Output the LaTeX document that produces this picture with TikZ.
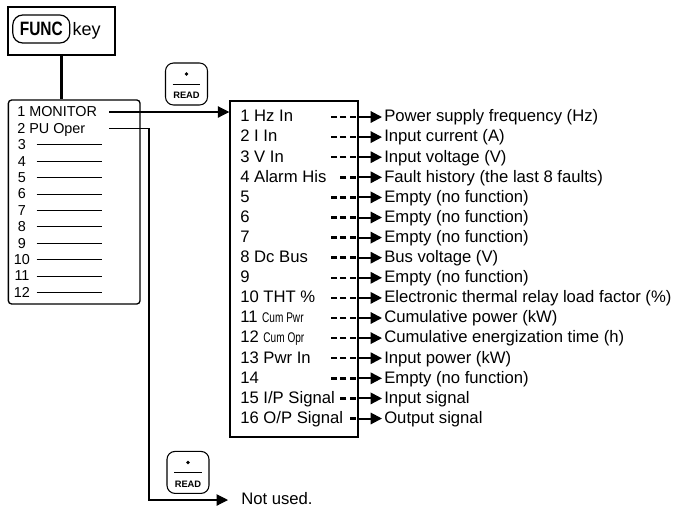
\documentclass[tikz,border=0pt]{standalone}
\usepackage{fontspec}
\setmainfont{Liberation Sans}
\usepackage{graphicx}
\usetikzlibrary{arrows.meta, positioning}

\newcommand{\cumtxt}[1]{\scalebox{0.72}[1]{\fontsize{10.5}{11}\selectfont #1}}

\tikzset{
  lbl/.style={inner sep=0pt, text height=0.72em, text depth=0pt, font=\fontsize{12.5}{14}\selectfont},
  menulbl/.style={inner sep=0pt, text height=0.72em, text depth=0pt, font=\fontsize{10.8}{12}\selectfont},
  conn/.style={line width=0.8pt},
  arrowtip/.style={-{Triangle[length=8.5pt, width=8.5pt]}},
  dashln/.style={line width=1.9pt, dash pattern=on 4.5pt off 2.4pt, dash phase=4.5pt},
  readkey/.style={draw, line width=0.8pt, rounded corners=6pt, minimum width=31.5pt, minimum height=31.5pt},
}

\begin{document}
\begin{tikzpicture}[x=0.75pt, y=-0.75pt]
  \useasboundingbox (0,0) rectangle (677,511);
  \def\ma{112}%
  \def\dm{16.4}%
  \def\ra{117}%
  \def\dr{20.1}

  %FUNC key:
  \node[draw, line width=1.5pt, minimum width=80pt, minimum height=36.2pt] (funcbox) at (61.7,30.9) {};
  \node[draw, line width=0.9pt, rounded corners=7.5pt, minimum width=42.8pt, minimum height=21pt, inner sep=0pt,
        font=\fontsize{14.5}{16}\selectfont\bfseries] (funckey) at (41.3,29) {\scalebox{0.8}[1]{FUNC}};
  \node[base right=1.5pt of funckey, inner sep=0pt, font=\fontsize{13.5}{15}\selectfont] (keylbl) {key};

  %menu list
  \node[draw, line width=1pt, rounded corners=2.5pt, minimum width=98.8pt, minimum height=153pt] (menu) at (74.2,202) {};
  \draw[line width=2pt] (funcbox.south) -- (funcbox.south |- menu.north);
  \node[menulbl, anchor=west] (m1) at (17,\ma) {1 MONITOR};
  \node[menulbl, anchor=west] (m2) at (17,\ma+\dm) {2 PU Oper};
  \foreach \i in {3,...,12}{
    \node[menulbl] (m\i) at (22,\ma+\i*\dm-\dm) {\i};
    \draw[line width=0.6pt] (36.7,\ma+\i*\dm-\dm) -- (101.7,\ma+\i*\dm-\dm);
  }

  %READ keys
  \foreach \k/\cx/\cy in {rk1/186.5/84, rk2/188/472.4}{
    \node[readkey] (\k) at (\cx,\cy) {};
    \fill ([yshift=7.5pt]\k.center) circle (1.4pt);
    \draw[line width=0.5pt] ([xshift=-10.4pt]\k.center) -- ([xshift=10.4pt]\k.center);
    \node[inner sep=0pt, text height=0.72em, text depth=0pt, font=\fontsize{7}{8}\selectfont\bfseries]
      (\k-txt) at ([yshift=-7.5pt]\k.center) {READ};
  }

  %monitor items
  \node[draw, line width=1.1pt, minimum width=96pt, minimum height=252pt] (rbox) at (294,269) {};
  \foreach \i/\itm/\desc/\sx in {
      1/{1 Hz In}/{Power supply frequency (Hz)}/330,
      2/{2 I In}/{Input current (A)}/330,
      3/{3 V In}/{Input voltage (V)}/330,
      4/{4 Alarm His}/{Fault history (the last 8 faults)}/340,
      5/{5}/{Empty (no function)}/330,
      6/{6}/{Empty (no function)}/330,
      7/{7}/{Empty (no function)}/330,
      8/{8 Dc Bus}/{Bus voltage (V)}/330,
      9/{9}/{Empty (no function)}/330,
      10/{10 THT \%}/{Electronic thermal relay load factor (\%)}/330,
      11/{11 \cumtxt{Cum Pwr}}/{Cumulative power (kW)}/330,
      12/{12 \cumtxt{Cum Opr}}/{Cumulative energization time (h)}/330,
      13/{13 Pwr In}/{Input power (kW)}/330,
      14/{14}/{Empty (no function)}/330,
      15/{15 I/P Signal}/{Input signal}/340,
      16/{16 O/P Signal}/{Output signal}/349}{
    \node[lbl, anchor=west] (r\i) at (240,\ra+\i*\dr-\dr) {\itm};
    \node[lbl, anchor=west] (o\i) at (384,\ra+\i*\dr-\dr) {\desc};
    \draw[dashln] (r\i -| rbox.east) -- (\sx,\ra+\i*\dr-\dr);
    \draw[line width=1.5pt, arrowtip, shorten >=1.5pt] (r\i -| rbox.east) -- (o\i.west);
  }

  %connectors
  \coordinate (monout) at (109,\ma);
  \coordinate (puout) at (109,\ma+\dm);
  \draw[conn, arrowtip] (monout) -- (monout -| rbox.west);
  \node[lbl, anchor=west] (notused) at (241,500) {Not used.};
  \draw[conn, arrowtip, shorten >=9.75pt] (puout) -| (149,500) -- (notused.west);
\end{tikzpicture}
\end{document}
